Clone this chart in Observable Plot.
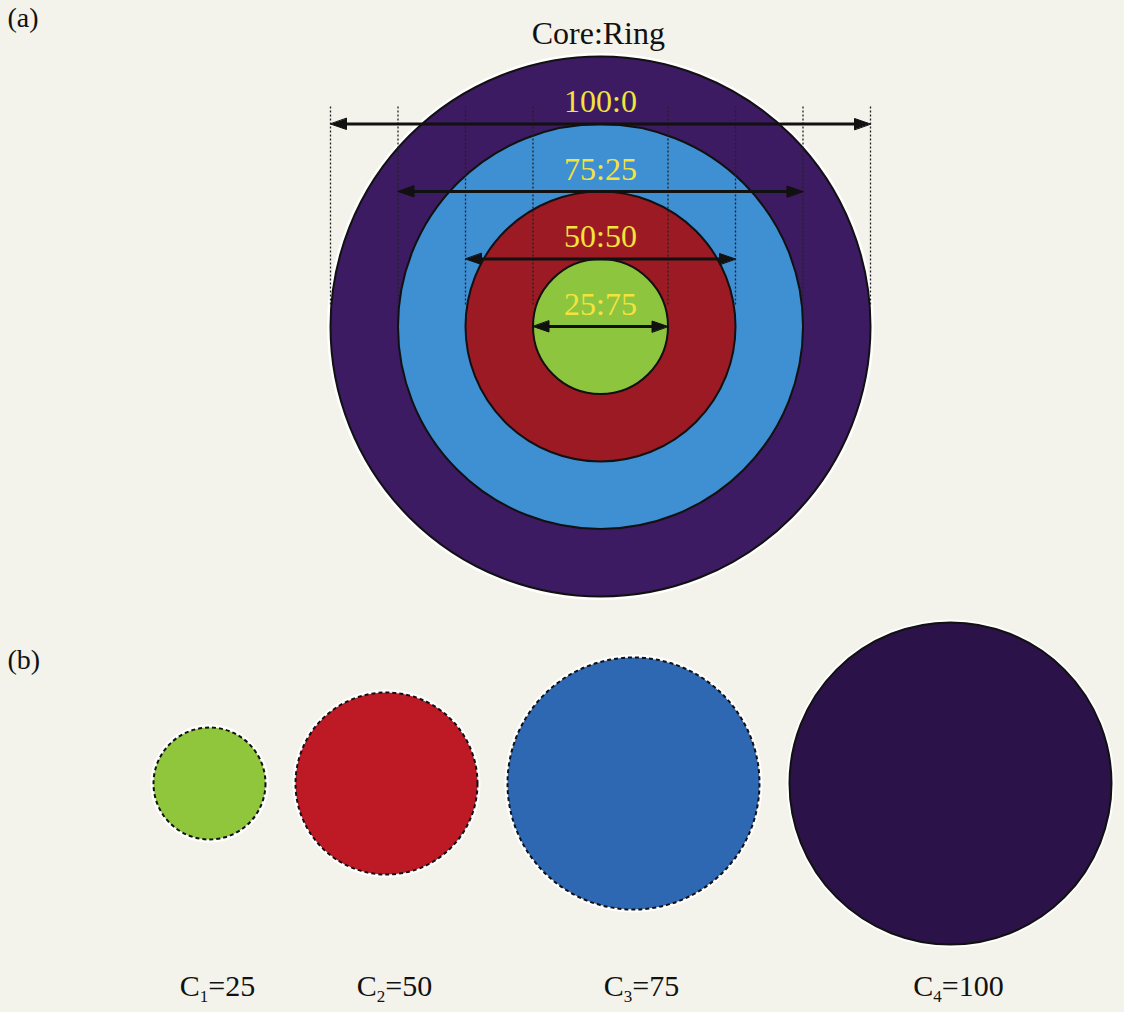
<!DOCTYPE html>
<html><head><meta charset="utf-8">
<script src="https://cdn.jsdelivr.net/npm/d3@7"></script>
<script src="https://cdn.jsdelivr.net/npm/@observablehq/plot@0.6"></script>
<style>
html,body{margin:0;padding:0;background:#f3f3ec;}
#chart{width:1124px;}
#chart svg{display:block;overflow:visible;}
</style></head><body><div id="chart"></div>
<script>
// ---- data ----
const ratioLabels = ["100:0", "75:25", "50:50", "25:75"];   // Core:Ring
const ringDiameters = [100, 75, 50, 25];                   // relative diameter
const contentValues = [25, 50, 75, 100];                   // C1..C4
const contentNames = ["C1", "C2", "C3", "C4"];

// ---- styles ----
const ringColors = ["#3d1b62", "#3f8fd3", "#9c1a23", "#8dc53e"];
const contentColors = ["#8fc63c", "#bd1a25", "#2f68b2", "#2b1249"];
const yellow = "#f3e33c";
const font = "'Liberation Serif', 'Times New Roman', serif";

const W = 1124, H1 = 620, H2 = 392;
const S = 5.4;            // px per unit, panel (a)
const cx = 600, cy = 326; // centre of the concentric rings (px)

const rings = ratioLabels.map((label, i) => ({
  label, d: ringDiameters[i], inner: ringDiameters[i + 1] ?? 0, color: ringColors[i]
}));
const guides = rings.flatMap(r => [-r.d / 2, r.d / 2]);
const ends = rings.flatMap(r => [{...r, x: -r.d / 2, rot: -90}, {...r, x: r.d / 2, rot: 90}]);
const head = {draw(ctx, l, r) { ctx.moveTo(0, -l); ctx.lineTo(-r, 0); ctx.lineTo(r, 0); ctx.closePath(); }};

const plotA = Plot.plot({
  width: W, height: H1, margin: 0,
  x: {domain: [-cx / S, (W - cx) / S], axis: null},
  y: {domain: [-(H1 - cy) / S, cy / S], axis: null},
  r: {type: "linear", domain: [0, 50], range: [0, 50 * S]},
  style: {background: "transparent", fontFamily: font},
  marks: [
    Plot.dot(rings.slice(0, 1), {x: () => 0, y: () => 0, r: d => d.d / 2, stroke: "white", strokeWidth: 7, fill: "none"}),
    Plot.dot(rings, {x: () => 0, y: () => 0, r: d => d.d / 2, fill: d => d.color, stroke: "#111", strokeWidth: 2}),
    Plot.ruleX(guides, {x: d => d, y1: 4, y2: 41, stroke: "#222", strokeWidth: 1.3, strokeDasharray: "2,2"}),
    Plot.ruleY(rings, {y: d => d.inner / 2, x1: d => -d.d / 2, x2: d => d.d / 2, insetLeft: 8, insetRight: 8, stroke: "#111", strokeWidth: 3}),
    Plot.vector(ends, {x: "x", y: d => d.inner / 2, rotate: "rot", length: 16, r: 5.5, anchor: "end", shape: head, fill: "#111", stroke: "#111", strokeWidth: 1}),
    Plot.text(rings, {x: () => 0, y: d => d.inner / 2, dy: -22, text: "label", fill: yellow, fontSize: 32}),
    Plot.text(["Core:Ring"], {x: () => -0.4, frameAnchor: "top", lineAnchor: "middle", dy: 33, fontSize: 32, fill: "#111"}),
    Plot.text(["(a)"], {frameAnchor: "top-left", textAnchor: "start", lineAnchor: "middle", dx: 7, dy: 18, fontSize: 28, fill: "#111"})
  ]
});

// panel (b): circle radius grows linearly with C
const rOf = d3.scaleLinear([0, 100], [21, 161]);
const gap = 30, left0 = 153;
let acc = left0;
const samples = contentValues.map((v, i) => {
  const r = rOf(v);
  const o = {v, name: contentNames[i], color: contentColors[i], x: acc + r, dashed: i < 3};
  acc += 2 * r + gap;
  return o;
});
const cyB = 163;

const plotB = Plot.plot({
  width: W, height: H2, margin: 0,
  x: {domain: [0, W], range: [0, W], axis: null},
  y: {domain: [0, H2], range: [0, H2], axis: null},
  r: {type: "linear", domain: [0, 100], range: [21, 161]},
  style: {background: "transparent", fontFamily: font, overflow: "visible"},
  marks: [
    Plot.dot(samples, {x: "x", y: () => cyB, r: "v", stroke: "white", strokeWidth: 6, fill: "none"}),
    Plot.dot(samples.filter(d => d.dashed), {x: "x", y: () => cyB, r: "v", fill: "color", stroke: "#111", strokeWidth: 2, strokeDasharray: "4,3"}),
    Plot.dot(samples.filter(d => !d.dashed), {x: "x", y: () => cyB, r: "v", fill: "color", stroke: "#111", strokeWidth: 2}),
    Plot.text(samples, {x: "x", y: () => 366, dx: 8, text: d => `${d.name}=${d.v}`, fontSize: 30, fill: "#111", className: "clabel"}),
    Plot.text(["(b)"], {frameAnchor: "top-left", textAnchor: "start", lineAnchor: "middle", dx: 7, dy: 40, fontSize: 28, fill: "#111"})
  ]
});

// subscripts for C labels
d3.select(plotB).selectAll(".clabel text").each(function() {
  const s = this.textContent;
  const m = s.match(/^C(\d)=(.*)$/);
  if (!m) return;
  const t = d3.select(this);
  t.text(null);
  t.append("tspan").text("C");
  t.append("tspan").attr("font-size", 17).attr("dy", 6).text(m[1]);
  t.append("tspan").attr("dy", -6).text("=" + m[2]);
});

document.getElementById("chart").append(plotA, plotB);
</script>
</body></html>
